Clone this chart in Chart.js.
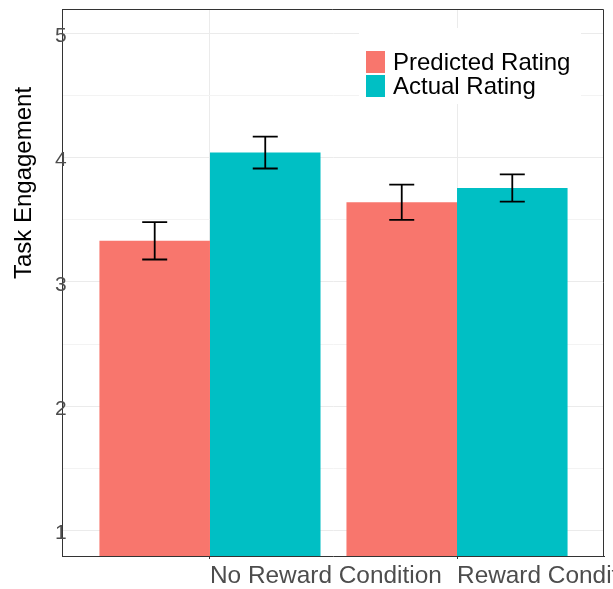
<!DOCTYPE html>
<html>
<head>
<meta charset="utf-8">
<script src="https://cdn.jsdelivr.net/npm/chart.js@4"></script>
<style>
  body { margin: 0; background: #fff; }
  canvas { display: block; }
</style>
</head>
<body>
<canvas id="chartEngagement" width="613" height="589"></canvas>
<script>
"use strict";

var conditions = ["No Reward Condition", "Reward Condition"];
var seriesNames = ["Predicted Rating", "Actual Rating"];
var seriesColors = ["#F8766D", "#00BFC4"];
var predictedMeans = [3.33, 3.64];
var actualMeans = [4.04, 3.755];
var predictedErrors = [0.15, 0.142];
var actualErrors = [0.128, 0.11];
var yTickValues = [1, 2, 3, 4, 5];
var yGridValues = [1, 1.5, 2, 2.5, 3, 3.5, 4, 4.5, 5];
var yTitle = "Task Engagement";

var fontFamily = "'Liberation Sans', Arial, sans-serif";

function toPoints(values) {
  return values.map((v, i) => ({x: i, y: v}));
}

var errorBars = {
  id: "errorBars",
  afterDatasetsDraw: function(chart) {
    var ctx = chart.ctx;
    var yScale = chart.scales.y;
    var errors = [predictedErrors, actualErrors];
    ctx.save();
    ctx.strokeStyle = "#000";
    ctx.lineWidth = 1.8;
    chart.data.datasets.forEach((ds, d) => {
      var meta = chart.getDatasetMeta(d);
      meta.data.forEach((bar, i) => {
        var v = ds.data[i].y;
        var top = yScale.getPixelForValue(v + errors[d][i]);
        var bottom = yScale.getPixelForValue(v - errors[d][i]);
        ctx.beginPath();
        ctx.moveTo(bar.x, top);
        ctx.lineTo(bar.x, bottom);
        ctx.moveTo(bar.x - 12.5, top);
        ctx.lineTo(bar.x + 12.5, top);
        ctx.moveTo(bar.x - 12.5, bottom);
        ctx.lineTo(bar.x + 12.5, bottom);
        ctx.stroke();
      });
    });
    ctx.restore();
  }
};

var panelDecor = {
  id: "panelDecor",
  afterDraw: function(chart) {
    var ctx = chart.ctx;
    var area = chart.chartArea;
    ctx.save();
    // top and right panel border
    ctx.strokeStyle = "#333";
    ctx.lineWidth = 1;
    ctx.beginPath();
    ctx.moveTo(area.left, area.top + 0.5);
    ctx.lineTo(area.right - 0.5, area.top + 0.5);
    ctx.lineTo(area.right - 0.5, area.bottom);
    ctx.stroke();

    // legend inside the panel
    var lx = area.right - 245;
    var ly = area.top + 19;
    ctx.fillStyle = "#fff";
    ctx.fillRect(lx, ly, 222, 76);
    ctx.font = "24px " + fontFamily;
    ctx.textBaseline = "middle";
    ctx.textAlign = "left";
    seriesNames.forEach((name, i) => {
      ctx.fillStyle = seriesColors[i];
      ctx.fillRect(lx + 7, ly + 23 + i * 24, 19, 22);
      ctx.fillStyle = "#000";
      ctx.fillText(name, lx + 34, ly + 35 + i * 24);
    });

    // y axis title
    ctx.translate(31, 183);
    ctx.rotate(-Math.PI / 2);
    ctx.textAlign = "center";
    ctx.textBaseline = "alphabetic";
    ctx.fillStyle = "#000";
    ctx.fillText(yTitle, 0, 0);
    ctx.restore();
  }
};

var chartEngagement = new Chart("chartEngagement", {
  type: 'bar',
  data: {
    datasets: [
      {
        label: seriesNames[0],
        backgroundColor: seriesColors[0],
        data: toPoints(predictedMeans)
      },
      {
        label: seriesNames[1],
        backgroundColor: seriesColors[1],
        data: toPoints(actualMeans)
      }
    ]
  },
  options: {
    responsive: false,
    animation: false,
    devicePixelRatio: 1,
    categoryPercentage: 0.895,
    barPercentage: 1,
    layout: {
      padding: {top: 9, right: 9, bottom: 0, left: 0}
    },
    plugins: {
      legend: {display: false},
      tooltip: {enabled: false}
    },
    scales: {
      x: {
        type: 'linear',
        offset: false,
        min: -0.599,
        max: 1.595,
        afterBuildTicks: function(scale) {
          scale.ticks = conditions.map((c, i) => ({value: i}));
        },
        afterFit: function(scale) {
          scale.height = 33;
          scale.paddingLeft = 0;
          scale.paddingRight = 0;
        },
        grid: {
          offset: false,
          color: "#ebebeb",
          drawTicks: true,
          tickLength: 3,
          tickColor: "#333"
        },
        border: {color: "#333", width: 1},
        ticks: {
          align: 'start',
          autoSkip: false,
          maxRotation: 0,
          minRotation: 0,
          padding: 3,
          color: "#4d4d4d",
          font: {family: fontFamily, size: 24.4},
          callback: function(value, index) {
            return conditions[index];
          }
        }
      },
      y: {
        min: 0.795,
        max: 5.195,
        afterBuildTicks: function(scale) {
          scale.ticks = yGridValues.map(v => ({value: v}));
        },
        afterFit: function(scale) {
          scale.width = 62;
          scale.paddingTop = 0;
          scale.paddingBottom = 0;
        },
        grid: {
          drawTicks: false,
          color: function(c) {
            return yTickValues.indexOf(c.tick.value) >= 0 ? "#ebebeb" : "#f3f3f3";
          }
        },
        border: {color: "#333", width: 1},
        ticks: {
          mirror: true,
          padding: -7,
          labelOffset: 3,
          color: "#4d4d4d",
          font: {family: fontFamily, size: 21},
          callback: function(value) {
            return yTickValues.indexOf(value) >= 0 ? String(value) : "";
          }
        }
      }
    }
  },
  plugins: [errorBars, panelDecor]
});
</script>
</body>
</html>
